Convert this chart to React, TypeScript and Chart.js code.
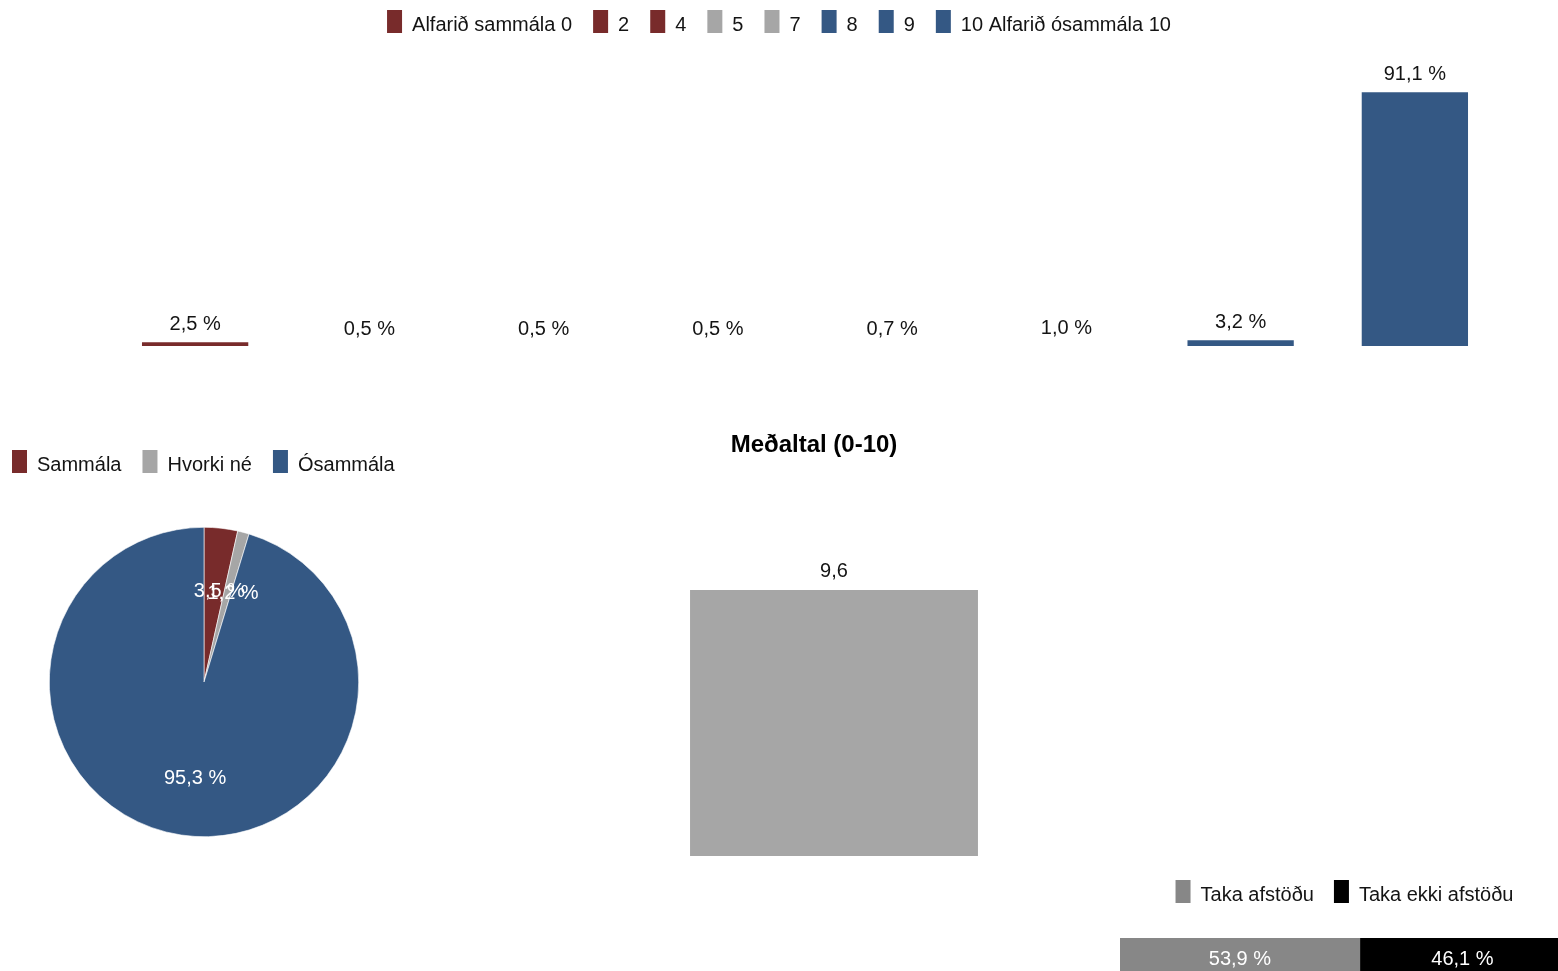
import React, { useEffect, useRef } from 'react';
import { Chart, registerables } from 'chart.js';

Chart.register(...registerables);

const FONT_FAMILY = "'Liberation Sans', Arial, Helvetica, sans-serif";
const TEXT_COLOR = '#141414';
const RED = '#782B2B';
const GRAY = '#A6A6A6';
const BLUE = '#345884';

// Chart 1: distribution over the 0-10 scale
const scaleLabels = ['Alfarið sammála 0', '2', '4', '5', '7', '8', '9', '10 Alfarið ósammála 10'];
const scaleValues = [2.5, 0.5, 0.5, 0.5, 0.7, 1.0, 3.2, 91.1];
const scaleColors = [RED, RED, RED, GRAY, GRAY, BLUE, BLUE, BLUE];
const scaleAxisMin = 1.2;
const scaleAxisMax = 100;

// Chart 2: grouped pie
const groupLabels = ['Sammála', 'Hvorki né', 'Ósammála'];
const groupValues = [3.5, 1.2, 95.3];
const groupColors = [RED, GRAY, BLUE];

// Chart 3: mean
const meanTitle = 'Meðaltal (0-10)';
const meanLabels = ['Meðaltal'];
const meanValues = [9.6];
const meanColors = [GRAY];
const meanAxisMax = 10;

// Chart 4: stance
const stanceLabels = ['Taka afstöðu', 'Taka ekki afstöðu'];
const stanceValues = [53.9, 46.1];
const stanceColors = ['#878787', '#000000'];

const pct = (v: number) => v.toFixed(1).replace('.', ',') + ' %';
const dec = (v: number) => v.toFixed(1).replace('.', ',');

const legendOpts = (names: string[], align: string = 'center', padding: number = 21) => ({
  display: true,
  position: 'top',
  align,
  labels: {
    boxWidth: 15,
    boxHeight: 21,
    padding,
    color: TEXT_COLOR,
    font: { size: 20, family: FONT_FAMILY },
    generateLabels: () =>
      names.map((text, i) => ({
        text,
        fillStyle: 'rgba(0,0,0,0)',
        strokeStyle: 'rgba(0,0,0,0)',
        lineWidth: 0,
        hidden: false,
        index: i,
        datasetIndex: 0,
        fontColor: TEXT_COLOR,
      })),
  },
});

// enlarges the legend block (space between legend and plot) and paints its colour boxes
const legendExtras = (extra: number, colors: string[]) => ({
  id: 'legendExtras',
  beforeInit(chart: any) {
    const legend = chart.legend;
    if (!legend) return;
    const orig = legend.fit;
    legend.fit = function () {
      orig.call(this);
      this.height += extra;
    };
  },
  afterDraw(chart: any) {
    const legend = chart.legend;
    if (!legend || !legend.legendHitBoxes) return;
    const { ctx } = chart;
    ctx.save();
    legend.legendHitBoxes.forEach((hb: any, i: number) => {
      ctx.fillStyle = colors[i];
      ctx.fillRect(hb.left, hb.top - 5, 15, 23);
    });
    ctx.restore();
  },
});

const barTopLabels = (format: (v: number) => string, offset: number) => ({
  id: 'barTopLabels',
  afterDatasetsDraw(chart: any) {
    const { ctx } = chart;
    const meta = chart.getDatasetMeta(0);
    const data = chart.data.datasets[0].data as number[];
    ctx.save();
    ctx.font = `20px ${FONT_FAMILY}`;
    ctx.fillStyle = TEXT_COLOR;
    ctx.textAlign = 'center';
    ctx.textBaseline = 'middle';
    meta.data.forEach((bar: any, i: number) => {
      const top = Math.min(bar.y, bar.base);
      ctx.fillText(format(data[i]), bar.x, top - offset);
    });
    ctx.restore();
  },
});

const pieLabels = {
  id: 'pieLabels',
  afterDatasetsDraw(chart: any) {
    const { ctx } = chart;
    const meta = chart.getDatasetMeta(0);
    const data = chart.data.datasets[0].data as number[];
    ctx.save();
    ctx.font = `20px ${FONT_FAMILY}`;
    ctx.fillStyle = '#ffffff';
    ctx.textAlign = 'center';
    ctx.textBaseline = 'middle';
    meta.data.forEach((arc: any, i: number) => {
      const p = arc.getProps(['x', 'y', 'startAngle', 'endAngle', 'outerRadius'], true);
      const mid = (p.startAngle + p.endAngle) / 2;
      const r = p.outerRadius * 0.61;
      ctx.fillText(pct(data[i]), p.x + 5 + Math.cos(mid) * r, p.y + 3 + Math.sin(mid) * r);
    });
    ctx.restore();
  },
};

const stackLabels = {
  id: 'stackLabels',
  afterDatasetsDraw(chart: any) {
    const { ctx } = chart;
    ctx.save();
    ctx.font = `20px ${FONT_FAMILY}`;
    ctx.fillStyle = '#ffffff';
    ctx.textAlign = 'center';
    ctx.textBaseline = 'middle';
    chart.data.datasets.forEach((ds: any, di: number) => {
      const meta = chart.getDatasetMeta(di);
      meta.data.forEach((bar: any, i: number) => {
        ctx.fillText(pct(ds.data[i]), (bar.x + bar.base) / 2, bar.y + 1);
      });
    });
    ctx.restore();
  },
};

const hiddenAxis = (width: number, position: string = 'left', extra: any = {}) => ({
  display: true,
  position,
  ticks: { display: false },
  grid: { display: false },
  border: { display: false },
  afterFit: (s: any) => {
    s.width = width;
  },
  ...extra,
});

export default function App() {
  const topRef = useRef<HTMLCanvasElement>(null);
  const pieRef = useRef<HTMLCanvasElement>(null);
  const meanRef = useRef<HTMLCanvasElement>(null);
  const stanceRef = useRef<HTMLCanvasElement>(null);

  useEffect(() => {
    Chart.defaults.font.family = FONT_FAMILY;
    Chart.defaults.color = TEXT_COLOR;
    const charts: Chart[] = [];

    charts.push(
      new Chart(topRef.current as HTMLCanvasElement, {
        type: 'bar',
        data: {
          labels: scaleLabels,
          datasets: [
            {
              data: scaleValues,
              backgroundColor: scaleColors,
              borderWidth: 0,
              barPercentage: 0.61,
              categoryPercentage: 1,
            },
          ],
        },
        options: {
          responsive: false,
          animation: false,
          layout: { padding: 0 },
          plugins: {
            legend: legendOpts(scaleLabels, 'center', 21) as any,
            tooltip: { enabled: false },
          },
          scales: {
            x: { display: false },
            y: hiddenAxis(52, 'left', { min: scaleAxisMin, max: scaleAxisMax }) as any,
          },
        },
        plugins: [legendExtras(21, scaleColors), barTopLabels(pct, 18)],
      })
    );

    charts.push(
      new Chart(pieRef.current as HTMLCanvasElement, {
        type: 'pie',
        data: {
          labels: groupLabels,
          datasets: [
            {
              data: groupValues,
              backgroundColor: groupColors,
              borderColor: '#ffffff',
              borderWidth: 0.6,
            },
          ],
        },
        options: {
          responsive: false,
          animation: false,
          layout: { padding: 0 },
          plugins: {
            legend: legendOpts(groupLabels, 'start', 21) as any,
            tooltip: { enabled: false },
          },
        },
        plugins: [legendExtras(41, groupColors), pieLabels],
      })
    );

    charts.push(
      new Chart(meanRef.current as HTMLCanvasElement, {
        type: 'bar',
        data: {
          labels: meanLabels,
          datasets: [
            {
              data: meanValues,
              backgroundColor: meanColors,
              borderWidth: 0,
              barPercentage: 0.61,
              categoryPercentage: 1,
            },
          ],
        },
        options: {
          responsive: false,
          animation: false,
          layout: { padding: { bottom: 5 } },
          plugins: {
            legend: { display: false },
            tooltip: { enabled: false },
            title: {
              display: true,
              text: meanTitle,
              color: '#000000',
              font: { size: 24, weight: 'bold', family: FONT_FAMILY },
              padding: { top: 12, bottom: 119 },
            },
          },
          scales: {
            x: { display: false },
            y: hiddenAxis(40, 'left', { min: 0, max: meanAxisMax }) as any,
          },
        },
        plugins: [barTopLabels(dec, 18)],
      })
    );

    charts.push(
      new Chart(stanceRef.current as HTMLCanvasElement, {
        type: 'bar',
        data: {
          labels: [''],
          datasets: stanceLabels.map((label, i) => ({
            label,
            data: [stanceValues[i]],
            backgroundColor: stanceColors[i],
            borderWidth: 0,
            barPercentage: 1,
            categoryPercentage: 1,
          })),
        },
        options: {
          indexAxis: 'y',
          responsive: false,
          animation: false,
          layout: { padding: 0 },
          plugins: {
            legend: legendOpts(stanceLabels, 'center', 20) as any,
            tooltip: { enabled: false },
          },
          scales: {
            x: { display: false, stacked: true, min: 0, max: 100 },
            y: hiddenAxis(4, 'right', { stacked: true }) as any,
          },
        },
        plugins: [legendExtras(22, stanceColors), stackLabels],
      })
    );

    return () => {
      charts.forEach((c) => c.destroy());
    };
  }, []);

  const abs = (left: number, top: number): React.CSSProperties => ({
    position: 'absolute',
    left,
    top,
  });

  return (
    <div
      style={{
        position: 'fixed',
        left: 0,
        top: 0,
        width: 1558,
        height: 971,
        overflow: 'hidden',
        background: '#ffffff',
      }}
    >
      <canvas ref={topRef} width={1446} height={352} style={abs(56, -6)} />
      <canvas ref={pieRef} width={426} height={403} style={abs(-9, 434)} />
      <canvas ref={meanRef} width={512} height={442} style={abs(558, 419)} />
      <canvas ref={stanceRef} width={449} height={113} style={abs(1120, 865)} />
    </div>
  );
}
